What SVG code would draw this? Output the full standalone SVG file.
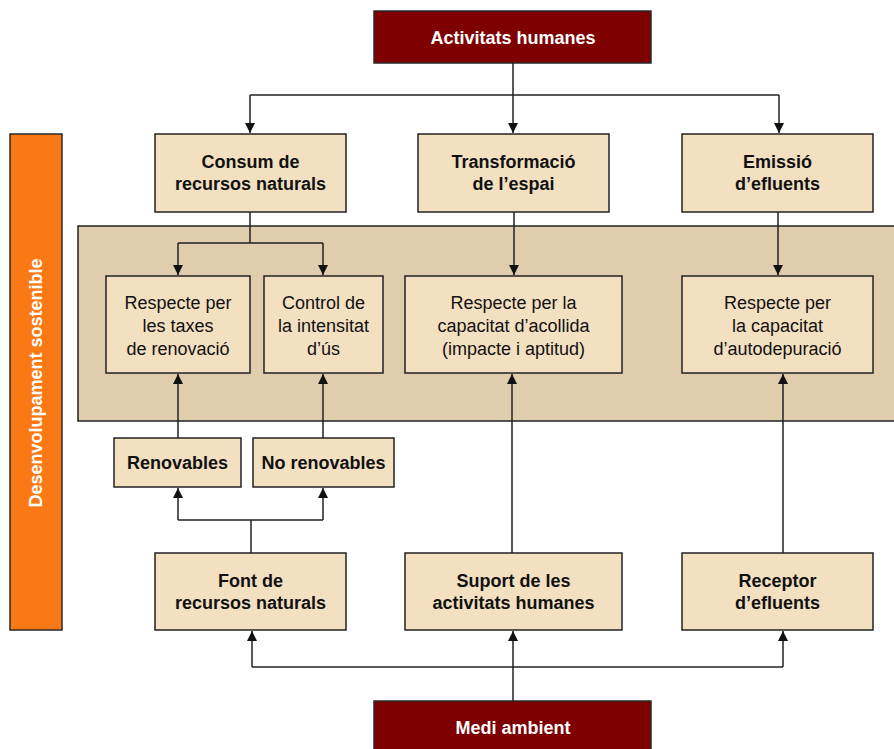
<svg xmlns="http://www.w3.org/2000/svg" width="894" height="749" viewBox="0 0 894 749">
<defs>
<style>
.dark{fill:#7f0000;stroke:#2a2a2a;stroke-width:1.5}
.box{fill:#f3e0c1;stroke:#222;stroke-width:1.5}
.panel{fill:#dfcdae;stroke:#222;stroke-width:1.5}
.orange{fill:#fb7914;stroke:#2a2a2a;stroke-width:1.5}
text{font-family:"Liberation Sans",Arial,sans-serif;font-size:18px;text-anchor:middle}
.b{font-weight:bold;fill:#111}
.r{fill:#111}
.w{font-weight:bold;fill:#fff}
.c{fill:none;stroke:#222;stroke-width:1.5}
</style>
<marker id="ah" viewBox="0 0 10 10" refX="10" refY="5" markerWidth="10" markerHeight="10" markerUnits="userSpaceOnUse" orient="auto">
<path d="M0,0 L10,5 L0,10 Z" fill="#111"/>
</marker>
</defs>
<rect width="894" height="749" fill="#fff"/>

<g id="sostenible">
<rect class="orange" x="10" y="134" width="52" height="496"/>
<text class="w" transform="translate(42,383) rotate(-90)">Desenvolupament sostenible</text>
</g>

<g id="panel">
<rect class="panel" x="78" y="226" width="820" height="195"/>
</g>

<g id="activitats">
<rect class="dark" x="374" y="11" width="277" height="52"/>
<text class="w" x="513" y="44">Activitats humanes</text>
</g>

<g id="consum">
<rect class="box" x="155" y="134" width="191" height="78"/>
<text class="b" x="250.5" y="168">Consum de</text>
<text class="b" x="250.5" y="190">recursos naturals</text>
</g>
<g id="transformacio">
<rect class="box" x="418" y="134" width="191" height="78"/>
<text class="b" x="513.5" y="168">Transformació</text>
<text class="b" x="513.5" y="190">de l’espai</text>
</g>
<g id="emissio">
<rect class="box" x="682" y="134" width="191" height="78"/>
<text class="b" x="777.5" y="168">Emissió</text>
<text class="b" x="777.5" y="190">d’efluents</text>
</g>

<g id="taxes">
<rect class="box" x="106" y="276" width="144" height="97"/>
<text class="r" x="178" y="309">Respecte per</text>
<text class="r" x="178" y="332">les taxes</text>
<text class="r" x="178" y="355">de renovació</text>
</g>
<g id="control">
<rect class="box" x="264" y="276" width="119" height="97"/>
<text class="r" x="323.5" y="309">Control de</text>
<text class="r" x="323.5" y="332">la intensitat</text>
<text class="r" x="323.5" y="355">d’ús</text>
</g>
<g id="acollida">
<rect class="box" x="405" y="276" width="217" height="97"/>
<text class="r" x="513.5" y="309">Respecte per la</text>
<text class="r" x="513.5" y="332">capacitat d’acollida</text>
<text class="r" x="513.5" y="355">(impacte i aptitud)</text>
</g>
<g id="autodepuracio">
<rect class="box" x="682" y="276" width="191" height="97"/>
<text class="r" x="777.5" y="309">Respecte per</text>
<text class="r" x="777.5" y="332">la capacitat</text>
<text class="r" x="777.5" y="355">d’autodepuració</text>
</g>

<g id="renovables">
<rect class="box" x="114" y="438" width="127" height="49"/>
<text class="b" x="177.5" y="469">Renovables</text>
</g>
<g id="norenovables">
<rect class="box" x="253" y="438" width="141" height="49"/>
<text class="b" x="323.5" y="469">No renovables</text>
</g>

<g id="font">
<rect class="box" x="155" y="553" width="191" height="77"/>
<text class="b" x="250.5" y="587">Font de</text>
<text class="b" x="250.5" y="609">recursos naturals</text>
</g>
<g id="suport">
<rect class="box" x="405" y="553" width="217" height="77"/>
<text class="b" x="513.5" y="587">Suport de les</text>
<text class="b" x="513.5" y="609">activitats humanes</text>
</g>
<g id="receptor">
<rect class="box" x="682" y="553" width="191" height="77"/>
<text class="b" x="777.5" y="587">Receptor</text>
<text class="b" x="777.5" y="609">d’efluents</text>
</g>

<g id="medi">
<rect class="dark" x="374" y="701" width="277" height="54"/>
<text class="w" x="513" y="734">Medi ambient</text>
</g>

<g id="connectors">
<path class="c" d="M513,63 V133" marker-end="url(#ah)"/>
<path class="c" d="M250,95 H779"/>
<path class="c" d="M250,95 V133" marker-end="url(#ah)"/>
<path class="c" d="M779,95 V133" marker-end="url(#ah)"/>
<path class="c" d="M250,212 V243 M178,243 H323"/>
<path class="c" d="M178,243 V275" marker-end="url(#ah)"/>
<path class="c" d="M323,243 V275" marker-end="url(#ah)"/>
<path class="c" d="M514,212 V275" marker-end="url(#ah)"/>
<path class="c" d="M778,212 V275" marker-end="url(#ah)"/>
<path class="c" d="M178,438 V374" marker-end="url(#ah)"/>
<path class="c" d="M323,438 V374" marker-end="url(#ah)"/>
<path class="c" d="M251,553 V520 M178,520 H323"/>
<path class="c" d="M178,520 V488" marker-end="url(#ah)"/>
<path class="c" d="M323,520 V488" marker-end="url(#ah)"/>
<path class="c" d="M512,553 V374" marker-end="url(#ah)"/>
<path class="c" d="M783,553 V374" marker-end="url(#ah)"/>
<path class="c" d="M513,701 V631" marker-end="url(#ah)"/>
<path class="c" d="M252,667 H783"/>
<path class="c" d="M252,667 V631" marker-end="url(#ah)"/>
<path class="c" d="M783,667 V631" marker-end="url(#ah)"/>
</g>
</svg>
